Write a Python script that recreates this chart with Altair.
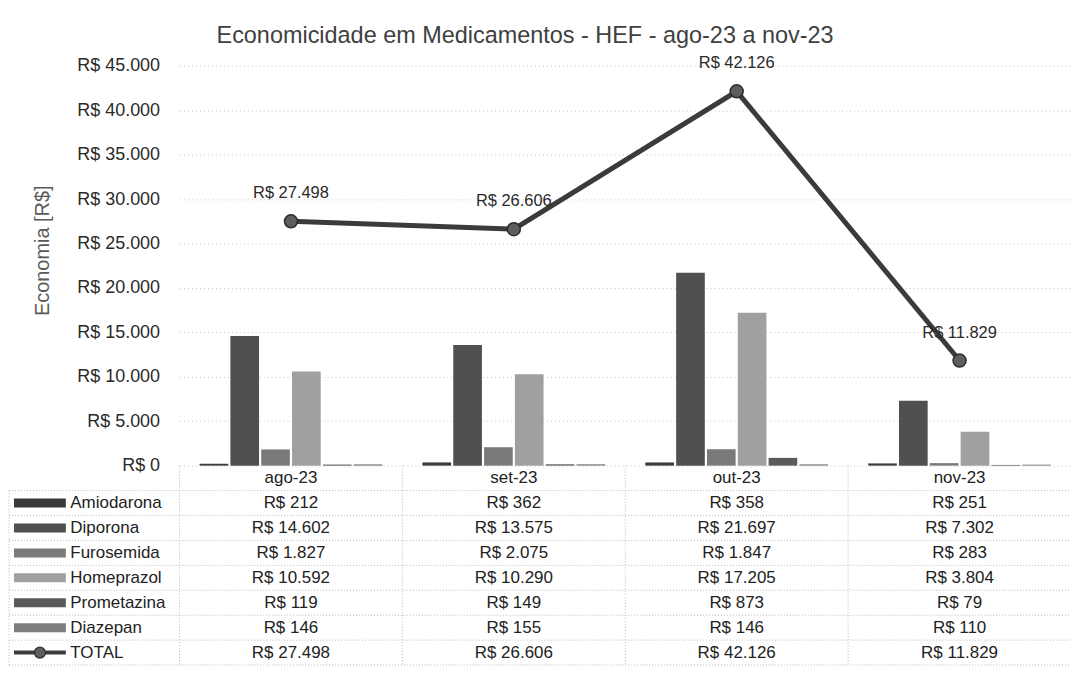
import altair as alt
import pandas as pd

months = ["ago-23", "set-23", "out-23", "nov-23"]
series = ["Amiodarona", "Diporona", "Furosemida", "Homeprazol", "Prometazina", "Diazepan"]
amiodarona = [212, 362, 358, 251]
diporona = [14602, 13575, 21697, 7302]
furosemida = [1827, 2075, 1847, 283]
homeprazol = [10592, 10290, 17205, 3804]
prometazina = [119, 149, 873, 79]
diazepan = [146, 155, 146, 110]
total = [27498, 26606, 42126, 11829]
y_ticks = [0, 5000, 10000, 15000, 20000, 25000, 30000, 35000, 40000, 45000]
title_text = "Economicidade em Medicamentos - HEF - ago-23 a nov-23"
y_title = "Economia [R$]"
colors = ["#3a3a3a", "#505050", "#7a7a7a", "#a0a0a0", "#5a5a5a", "#7e7e7e"]


def brl(v):
    return "R$ " + f"{v:,}".replace(",", ".")


series_values = [amiodarona, diporona, furosemida, homeprazol, prometazina, diazepan]

bars_df = pd.DataFrame(
    [{"month": m, "serie": s, "value": v}
     for s, vals in zip(series, series_values)
     for m, v in zip(months, vals)]
)
tot_df = pd.DataFrame({"month": months, "value": total, "label": [brl(v) for v in total]})

rows = ["hdr"] + series + ["TOTAL"]
cells = [{"row": "hdr", "month": m, "text": m} for m in months]
for s, vals in zip(series, series_values):
    cells += [{"row": s, "month": m, "text": brl(v)} for m, v in zip(months, vals)]
cells += [{"row": "TOTAL", "month": m, "text": brl(v)} for m, v in zip(months, total)]
cells_df = pd.DataFrame(cells)

W = 894
H = 401
TH = 200
LEFT = -171
FONT = "Liberation Sans"
GRID = "#c4c4c4"
TGRID = "#b8b8b8"

color_scale = alt.Scale(domain=series, range=colors)

# ---------------- main chart ----------------
x_main = alt.X("month:N", sort=months, axis=None,
               scale=alt.Scale(paddingInner=0.18, paddingOuter=0.09))
y_main = alt.Y(
    "value:Q",
    scale=alt.Scale(domain=[0, 45000]),
    axis=alt.Axis(
        values=y_ticks, title=y_title, titleFontSize=20, titleFontWeight="normal",
        titleColor="#5a5a5a", titlePadding=24, titleY=185, labelFontSize=18,
        labelColor="#2a2a2a", labelPadding=20, ticks=False, domain=False, grid=True,
        gridColor=GRID, gridDash=[1, 3], gridWidth=1,
        labelExpr="'R$ ' + replace(format(datum.value, ','), ',', '.')",
    ),
)

bar_layer = alt.Chart(bars_df).mark_bar().encode(
    x=x_main,
    xOffset=alt.XOffset("serie:N", sort=series, scale=alt.Scale(paddingInner=0.07)),
    y=y_main,
    color=alt.Color("serie:N", scale=color_scale, legend=None),
)

line_layer = alt.Chart(tot_df).mark_line(
    color="#3b3b3b", strokeWidth=5,
    point=alt.OverlayMarkDef(filled=True, size=170, color="#5e5e5e",
                             stroke="#2c2c2c", strokeWidth=1.5),
).encode(x=x_main, y=alt.Y("value:Q"))

label_layer = alt.Chart(tot_df).mark_text(
    dy=-28, fontSize=16.5, color="#2a2a2a"
).encode(x=x_main, y=alt.Y("value:Q"), text="label:N")

main = alt.layer(bar_layer, line_layer, label_layer).properties(width=W, height=H)

# ---------------- data table ----------------
x_tab = alt.X("month:N", sort=months, axis=None,
              scale=alt.Scale(paddingInner=0, paddingOuter=0))


def y_tab(band_pos=None):
    kw = {}
    if band_pos is not None:
        kw["bandPosition"] = band_pos
    return alt.Y(
        "row:N", sort=rows,
        scale=alt.Scale(domain=rows, paddingInner=0, paddingOuter=0),
        axis=alt.Axis(
            title=None, ticks=False, domain=False, grid=False,
            labelAlign="left", labelPadding=110, labelFontSize=17, labelColor="#222222",
            labelExpr="datum.value == 'hdr' ? '' : datum.value",
        ),
        **kw,
    )


text_layer = alt.Chart(cells_df).mark_text(fontSize=17, color="#222222").encode(
    x=x_tab, y=y_tab(), text="text:N"
)

rule_style = dict(color=TGRID, strokeDash=[1, 2], strokeWidth=1)

row_df = pd.DataFrame({"row": series + ["TOTAL"]})
hlines = alt.Chart(row_df).mark_rule(**rule_style).encode(
    y=y_tab(0), x=alt.value(LEFT), x2=alt.value(W)
)
bottom_line = alt.Chart(pd.DataFrame({"row": ["TOTAL"]})).mark_rule(**rule_style).encode(
    y=y_tab(1), x=alt.value(LEFT), x2=alt.value(W)
)
month_df = pd.DataFrame({"month": months})
vlines = alt.Chart(month_df).mark_rule(**rule_style).encode(
    x=alt.X("month:N", sort=months, axis=None, bandPosition=0,
            scale=alt.Scale(paddingInner=0, paddingOuter=0)),
)
left_border = alt.Chart(pd.DataFrame({"row": ["Amiodarona"]})).mark_rule(**rule_style).encode(
    x=alt.value(LEFT), y=y_tab(0), y2=alt.value(TH)
)

swatch_df = pd.DataFrame({"row": series, "serie": series})
swatches = alt.Chart(swatch_df).mark_rule(strokeWidth=9, strokeCap="butt").encode(
    x=alt.value(LEFT + 5), x2=alt.value(-114), y=y_tab(),
    color=alt.Color("serie:N", scale=color_scale, legend=None),
)
total_key_df = pd.DataFrame({"row": ["TOTAL"]})
total_key_line = alt.Chart(total_key_df).mark_rule(
    strokeWidth=4, color="#3b3b3b", strokeCap="butt"
).encode(x=alt.value(LEFT + 5), x2=alt.value(-114), y=y_tab())
total_key_pt = alt.Chart(total_key_df).mark_point(
    filled=True, size=120, color="#5e5e5e", stroke="#2c2c2c", strokeWidth=1.2, opacity=1
).encode(x=alt.value(-140), y=y_tab())

table = alt.layer(
    hlines, bottom_line, vlines, left_border, swatches, total_key_line, total_key_pt, text_layer
).properties(width=W, height=TH)

chart = (
    alt.vconcat(main, table, spacing=0, bounds="flush")
    .properties(
        title=alt.Title(title_text, fontSize=23.5, fontWeight="normal", color="#404040",
                        anchor="middle", dx=-15, offset=8),
        padding={"left": 0, "top": 15, "right": 0, "bottom": 0},
    )
    .configure(font=FONT)
    .configure_view(stroke="transparent", strokeWidth=0)
)

chart.save("out.html", embed_options={"renderer": "svg", "actions": False})
